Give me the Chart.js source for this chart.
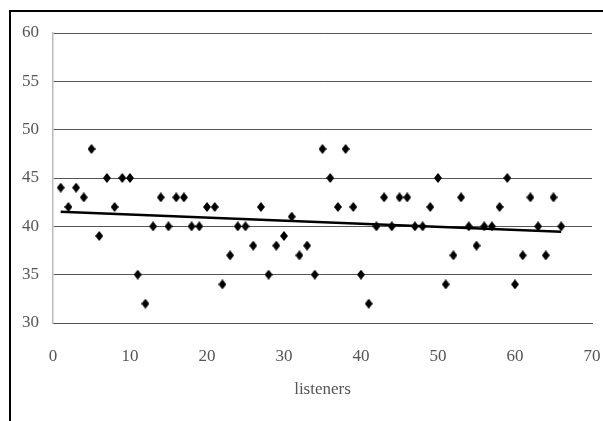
<!DOCTYPE html>
<html>
<head>
<meta charset="utf-8">
<script src="https://cdn.jsdelivr.net/npm/chart.js@4"></script>
<style>
  body { margin: 0; background: #fff; }
  #wrap { position: relative; width: 603px; height: 421px; overflow: hidden; }
  #frame { position: absolute; left: 9px; top: 10px; width: 620px; height: 440px; border: 2px solid #000; box-sizing: border-box; }
  #c { position: absolute; left: 0; top: 0; }
</style>
</head>
<body>
<div id="wrap">
  <div id="frame"></div>
  <canvas id="c"></canvas>
</div>
<script>
const listeners = [1,2,3,4,5,6,7,8,9,10,11,12,13,14,15,16,17,18,19,20,21,22,23,24,25,26,27,28,29,30,31,32,33,
    34,35,36,37,38,39,40,41,42,43,44,45,46,47,48,49,50,51,52,53,54,55,56,57,58,59,60,61,62,63,64,65,66]
const scores = [44,42,44,43,48,39,45,42,45,45,35,32,40,43,40,43,43,40,40,42,42,34,37,40,40,38,42,35,38,39,41,37,38,
    35,48,45,42,48,42,35,32,40,43,40,43,43,40,40,42,45,34,37,43,40,38,40,40,42,45,34,37,43,40,37,43,40]
const trendX = [1, 66]
const trendY = [41.5, 39.45]

// tall diamond marker
const marker = document.createElement('canvas')
marker.width = 8
marker.height = 10
const m = marker.getContext('2d')
m.fillStyle = '#000'
m.beginPath()
m.moveTo(4, 0)
m.lineTo(8, 5)
m.lineTo(4, 10)
m.lineTo(0, 5)
m.closePath()
m.fill()

const ctx = document.getElementById('c')
ctx.width = 603
ctx.height = 421

const font = { family: '"Liberation Serif", "Times New Roman", serif', size: 17 }

new Chart(ctx, {
    type: 'scatter',
    data: {
        datasets: [{
            label: 'scores',
            data: listeners.map((x, i) => ({ x, y: scores[i] })),
            pointStyle: marker,
            pointRadius: 5,
            showLine: false
        }, {
            label: 'trend',
            data: trendX.map((x, i) => ({ x, y: trendY[i] })),
            showLine: true,
            borderColor: '#000',
            borderWidth: 2.5,
            pointRadius: 0
        }]
    },
    options: {
        responsive: false,
        animation: false,
        layout: { padding: { top: 33, right: 11, left: 0, bottom: 0 } },
        plugins: { legend: { display: false }, tooltip: { enabled: false } },
        scales: {
            x: {
                type: 'linear',
                min: 0,
                max: 70,
                ticks: { stepSize: 10, color: '#555', font, padding: 23, maxRotation: 0 },
                grid: { display: false, drawTicks: false },
                border: { color: '#555', width: 1 },
                title: { display: true, text: 'listeners', color: '#555', font, padding: { top: 0, bottom: 21 } },
                afterFit: s => { s.height = 98; s.paddingLeft = 0; s.paddingRight = 0 }
            },
            y: {
                min: 30,
                max: 60,
                ticks: { stepSize: 5, color: '#555', font, padding: 14 },
                grid: { color: '#555', lineWidth: 1, drawTicks: false },
                border: { color: '#bbb', width: 1.5 },
                afterFit: s => { s.width = 53 }
            }
        }
    }
})
</script>
</body>
</html>
